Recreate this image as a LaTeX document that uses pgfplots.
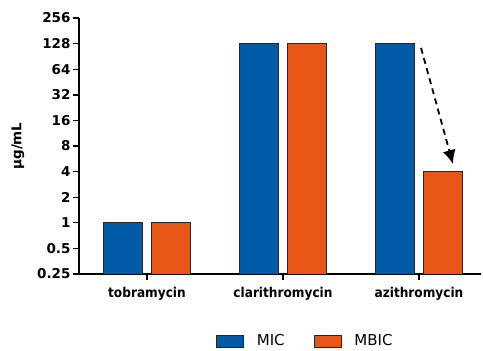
\documentclass[border=0pt]{standalone}
\usepackage{pgfplots}
\pgfplotsset{compat=1.18}
\usetikzlibrary{arrows.meta}
\usepackage{fontspec}
\setmainfont{DejaVu Sans}
\newfontfamily\condfont{DejaVu Sans Condensed}
\definecolor{micblue}{RGB}{0,90,166}
\definecolor{mbicorange}{RGB}{232,86,22}
\begin{document}
\begin{tikzpicture}[x=1pt,y=1pt]
\useasboundingbox (-79,-77) rectangle (404,274);
\begin{axis}[
  at={(0,0)}, anchor=south west,
  scale only axis, width=402pt, height=256pt,
  ymode=log, log basis y=2, log origin=infty,
  ymin=0.25, ymax=256,
  xmin=-0.5, xmax=2.456,
  axis x line*=bottom, axis y line*=left,
  axis line style={line width=1.6pt, -},
  ytick={0.25,0.5,1,2,4,8,16,32,64,128,256},
  yticklabels={0.25,0.5,1,2,4,8,16,32,64,128,256},
  xtick={0,1,2},
  xticklabels={tobramycin,clarithromycin,azithromycin},
  tick style={line width=1.4pt, black},
  tick align=outside, major tick length=6pt,
  minor tick num=0, yminorticks=false,
  /pgf/number format/assume math mode=true,
  yticklabel style={font=\fontsize{13.5}{15}\selectfont\bfseries, xshift=1pt},
  xticklabel style={font=\fontsize{13.5}{15}\selectfont\condfont\bfseries, yshift=-4pt},
  ylabel={µg/mL},
  ylabel style={font=\fontsize{13.5}{15}\selectfont\bfseries, at={(axis description cs:-0.152,0.5)}, anchor=center, rotate=0},
  ybar, bar width=39pt,
  legend style={draw=none, at={(axis description cs:0.563,-0.262)}, anchor=center,
    legend columns=2, font=\fontsize{15}{17}\selectfont,
    /tikz/every odd column/.append style={column sep=11pt},
    /tikz/every even column/.append style={column sep=27pt}},
  legend image code/.code={\draw[#1, line width=0.8pt] (0pt,-6pt) rectangle (27pt,6pt);},
]
\addplot[fill=micblue, draw=black!85, line width=0.6pt, bar shift=-24pt] coordinates {(0,1) (1,128) (2,128)};
\addlegendentry{MIC}
\addplot[fill=mbicorange, draw=black!85, line width=0.6pt, bar shift=24pt] coordinates {(0,1) (1,128) (2,4)};
\addlegendentry{MBIC}
\draw[-{Latex[length=14pt,width=13pt]}, line width=1.8pt, dash pattern=on 6pt off 4.5pt] (axis cs:2.015,114) -- (axis cs:2.25,4.9);
\end{axis}
\end{tikzpicture}
\end{document}
